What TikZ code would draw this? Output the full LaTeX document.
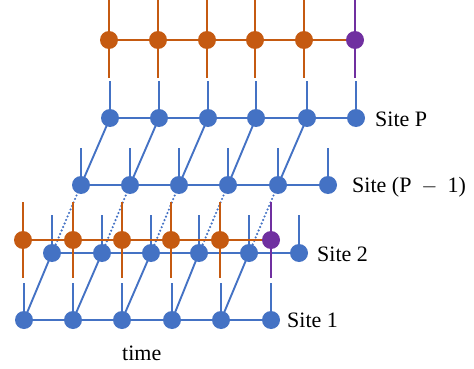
\documentclass[tikz,border=0pt]{standalone}
\usepackage{fontspec}
\setmainfont{Liberation Serif}
\definecolor{tblue}{HTML}{4472C4}
\definecolor{torange}{HTML}{C55A11}
\definecolor{tpurple}{HTML}{7030A0}
\begin{document}
\begin{tikzpicture}[x=1pt,y=-1pt,
  bdot/.style={circle,fill=tblue,inner sep=0pt,minimum size=18pt},
  odot/.style={circle,fill=torange,inner sep=0pt,minimum size=18pt},
  pdot/.style={circle,fill=tpurple,inner sep=0pt,minimum size=18pt},
  bl/.style={draw=tblue,line width=1.9pt},
  ol/.style={draw=torange,line width=1.9pt},
  pl/.style={draw=tpurple,line width=1.9pt},
  dl/.style={draw=tblue,line width=2.4pt,line cap=round,dash pattern=on 0pt off 3.8pt},
  lab/.style={font=\fontsize{22}{24}\selectfont,anchor=west,inner sep=0pt}]
\useasboundingbox (0,0) rectangle (474,369);
% ---------- coordinates ----------
\foreach \i/\x in {1/110,2/159,3/208,4/256,5/307,6/356}{
  \coordinate (P\i) at (\x,118);
  \coordinate (Pt\i) at (\x,81);
}
\foreach \i/\x in {1/81,2/130,3/179,4/228,5/278,6/328}{
  \coordinate (Q\i) at (\x,185);
  \coordinate (Qt\i) at (\x,148);
}
\foreach \i/\x in {1/52,2/102,3/151,4/199,5/249,6/299}{
  \coordinate (B\i) at (\x,253);
  \coordinate (Bt\i) at (\x,215);
}
\foreach \i/\x in {1/24,2/73,3/122,4/172,5/221,6/271}{
  \coordinate (A\i) at (\x,320);
  \coordinate (At\i) at (\x,283);
}
\foreach \i/\x in {1/109,2/158,3/207,4/255,5/304,6/355}{
  \coordinate (T\i) at (\x,40);
  \coordinate (Tt\i) at (\x,0);
  \coordinate (Tb\i) at (\x,78);
}
\foreach \i/\x in {1/23,2/73,3/122,4/171,5/220,6/271}{
  \coordinate (O\i) at (\x,240);
  \coordinate (Ot\i) at (\x,202);
  \coordinate (Ob\i) at (\x,278);
}
% ---------- Site 1 ----------
\draw[bl] (A1) -- (A6);
\foreach \i in {1,...,6}{\draw[bl] (A\i) -- (At\i);}
\foreach \i in {1,...,5}{\draw[bl] (B\i) -- (A\i);}
\foreach \i in {1,...,6}{\node[bdot] (a\i) at (A\i) {};}
% ---------- Site 2 ----------
\draw[bl] (B1) -- (B6);
\foreach \i in {1,...,6}{\draw[bl] (B\i) -- (Bt\i);}
\foreach \i in {1,...,5}{\draw[dl] (Q\i) -- (B\i);}
\foreach \i in {1,...,6}{\node[bdot] (b\i) at (B\i) {};}
% ---------- Site P-1 ----------
\draw[bl] (Q1) -- (Q6);
\foreach \i in {1,...,6}{\draw[bl] (Q\i) -- (Qt\i);}
\foreach \i in {1,...,5}{\draw[bl] (P\i) -- (Q\i);}
\foreach \i in {1,...,6}{\node[bdot] (q\i) at (Q\i) {};}
% ---------- Site P ----------
\draw[bl] (P1) -- (P6);
\foreach \i in {1,...,6}{\draw[bl] (P\i) -- (Pt\i);}
\foreach \i in {1,...,6}{\node[bdot] (p\i) at (P\i) {};}
% ---------- orange rows ----------
\draw[ol] (T1) -- (T6);
\foreach \i in {1,...,5}{\draw[ol] (Tt\i) -- (Tb\i);}
\draw[pl] (Tt6) -- (Tb6);
\foreach \i in {1,...,5}{\node[odot] (t\i) at (T\i) {};}
\node[pdot] (t6) at (T6) {};
\draw[ol] (O1) -- (O6);
\foreach \i in {1,...,5}{\draw[ol] (Ot\i) -- (Ob\i);}
\draw[pl] (Ot6) -- (Ob6);
\foreach \i in {1,...,5}{\node[odot] (o\i) at (O\i) {};}
\node[pdot] (o6) at (O6) {};
% ---------- labels ----------
\node[lab] (lP) at (375,119) {Site P};
\node[lab] (lQ) at (352,187) {Site (P\hspace{10pt}$-$\hspace{10pt}1)};
\node[lab] (l2) at (317,254) {Site 2};
\node[lab] (l1) at (287,320) {Site 1};
\node[lab] (lt) at (122,353) {time};
\end{tikzpicture}
\end{document}
